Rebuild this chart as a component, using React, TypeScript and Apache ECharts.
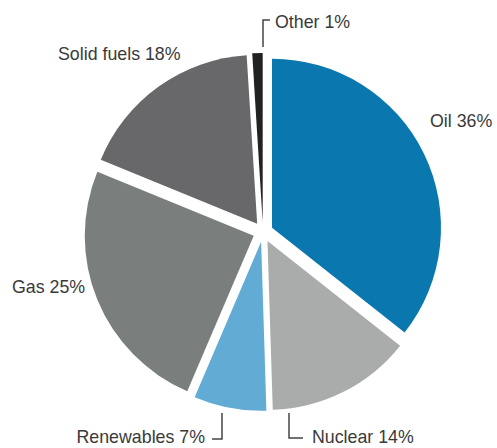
import React, { useEffect, useRef } from "react";
import * as echarts from "echarts";

const categories = ["Oil", "Nuclear", "Renewables", "Gas", "Solid fuels", "Other"];
const shares = [36, 14, 7, 25, 18, 1];
const sliceColors = ["#0A77AF", "#AAACAC", "#61ABD4", "#7A7F7E", "#68686A", "#222222"];

// label layout (pixel anchors in the 497x448 canvas)
const labelPlacement: { x: number; y: number; align: string; line?: number[][] }[] = [
  { x: 430, y: 121, align: "left" },
  { x: 312, y: 437, align: "left", line: [[289, 413], [289, 438], [303, 438]] },
  { x: 205, y: 437, align: "right", line: [[222, 413], [222, 439], [212, 439]] },
  { x: 12, y: 287, align: "left" },
  { x: 58, y: 54, align: "left" },
  { x: 275, y: 22, align: "left", line: [[263, 47], [263, 20], [270, 20]] },
];

export default function App() {
  const ref = useRef<HTMLDivElement>(null);
  useEffect(() => {
    if (!ref.current) return;
    const chart = echarts.init(ref.current, null, { renderer: "svg" });
    const data = categories.map((name, i) => ({
      name,
      value: shares[i],
      selected: true,
      itemStyle: { color: sliceColors[i] },
    }));
    const graphics: any[] = [];
    categories.forEach((name, i) => {
      const p = labelPlacement[i];
      graphics.push({
        type: "text",
        x: p.x,
        y: p.y,
        silent: true,
        style: {
          text: `${name} ${shares[i]}%`,
          fill: "#3a3a3a",
          font: "17.8px 'Liberation Sans', Arial, sans-serif",
          align: p.align,
          verticalAlign: "middle",
        },
      });
      if (p.line) {
        graphics.push({
          type: "polyline",
          silent: true,
          shape: { points: p.line },
          style: { stroke: "#444444", lineWidth: 1.5, fill: null },
        });
      }
    });
    chart.setOption({
      animation: false,
      graphic: graphics,
      series: [
        {
          type: "pie",
          center: [263, 232],
          radius: [0, 169],
          startAngle: 90,
          clockwise: true,
          selectedMode: "multiple",
          selectedOffset: 10,
          avoidLabelOverlap: false,
          emphasis: { disabled: true },
          itemStyle: { borderWidth: 0 },
          label: { show: false },
          labelLine: { show: false },
          data,
        },
      ],
    });
    return () => chart.dispose();
  }, []);
  return (
    <div
      ref={ref}
      style={{ position: "absolute", left: 0, top: 0, width: 497, height: 448 }}
    />
  );
}
